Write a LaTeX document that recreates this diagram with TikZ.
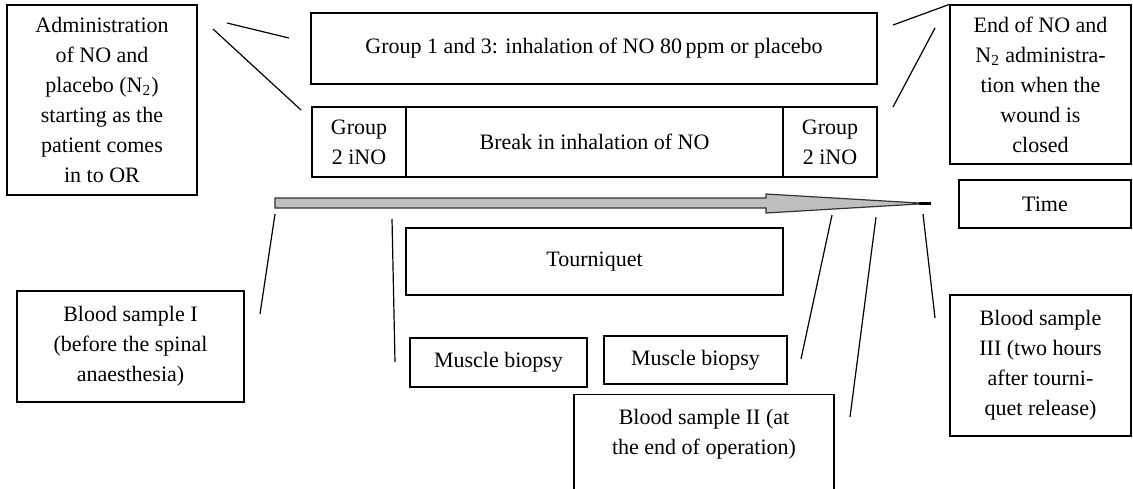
\documentclass[tikz,border=0pt]{standalone}
\usepackage{fontspec}
\setmainfont{Liberation Serif}
\begin{document}
\begin{tikzpicture}[x=0.5pt,y=-0.5pt,
	box/.style={draw,line width=0.6pt,align=center,inner sep=0pt,font=\fontsize{11}{15}\selectfont},
	lbl/.style={align=center,inner sep=0pt,font=\fontsize{11}{15}\selectfont},
	link/.style={line width=0.6pt}]
\clip (0,0) rectangle (1133,488);
\node[box,minimum width=95pt,minimum height=95pt] (admin) at (102,100) {Administration\\of NO and\\placebo (N\textsubscript{2})\\starting as the\\patient comes\\in to OR};
\node[box,minimum width=283pt,minimum height=35.5pt] (grp13) at (594,48.5) {Group 1 and 3: inhalation of NO 80\,ppm or placebo};
\node[box,minimum width=47pt,minimum height=35pt] (grp2a) at (359,142) {Group\\2 iNO};
\node[box,minimum width=188.5pt,minimum height=35pt] (break) at (594.5,142) {Break in inhalation of NO};
\node[box,minimum width=47pt,minimum height=35pt] (grp2b) at (830,142) {Group\\2 iNO};
\node[box,minimum width=90.5pt,minimum height=79.5pt] (endno) at (1040.5,84.5) {End of NO and\\N\textsubscript{2} administra-\\tion when the\\wound is\\closed};
\node[box,minimum width=86pt,minimum height=24pt] (time) at (1045,204) {Time};
\node[box,minimum width=188.5pt,minimum height=33.5pt] (tourn) at (594.5,261.5) {Tourniquet};
\node[box,minimum width=113.5pt,minimum height=55.5pt] (blood1) at (130.5,346.5) {Blood sample I\\(before the spinal\\anaesthesia)};
\node[box,minimum width=88.5pt,minimum height=24.5pt] (biopsy1) at (498.5,362.5) {Muscle biopsy};
\node[box,minimum width=91.5pt,minimum height=24pt] (biopsy2) at (695.5,360) {Muscle biopsy};
\node[box,minimum width=130pt,minimum height=60pt,anchor=north] (blood2) at (704,394) {};
\node[lbl] (blood2txt) at (704,434) {Blood sample II (at\\the end of operation)};
\node[box,minimum width=90.5pt,minimum height=70.5pt] (blood3) at (1040.5,365.5) {Blood sample\\III (two hours\\after tourni-\\quet release)};
\coordinate (tstart) at (275,203);
\coordinate (ttip) at (927,203.5);
\draw[line width=0.6pt,draw=black!80,fill=black!25] (tstart) ++(0,-5) -- (766,198) -- (766,194) -- (ttip) -- (766,213) -- (766,208) -- (275,208) -- cycle;
\draw[line width=1.2pt] (ttip) ++(-8,0) -- ++(12,0);
\coordinate (admA) at (227,23);
\coordinate (admB) at (213,29);
\coordinate (grpA) at (289,38);
\coordinate (barA) at (301,110);
\coordinate (endA) at (893,25);
\coordinate (endB) at (935,28);
\coordinate (barB) at (893,107);
\coordinate (b1a) at (260,314);
\coordinate (b1b) at (275,214);
\coordinate (m1a) at (395,362);
\coordinate (m1b) at (392,219);
\coordinate (m2a) at (801,359);
\coordinate (m2b) at (832,215);
\coordinate (b2a) at (850,417);
\coordinate (b2b) at (876,217);
\coordinate (b3a) at (935,318);
\coordinate (b3b) at (923,214);
\foreach \p/\q in {admA/grpA,admB/barA,endA/endno.north west,endB/barB,b1a/b1b,m1a/m1b,m2a/m2b,b2a/b2b,b3a/b3b}
	\draw[link] (\p) -- (\q);
\end{tikzpicture}
\end{document}
